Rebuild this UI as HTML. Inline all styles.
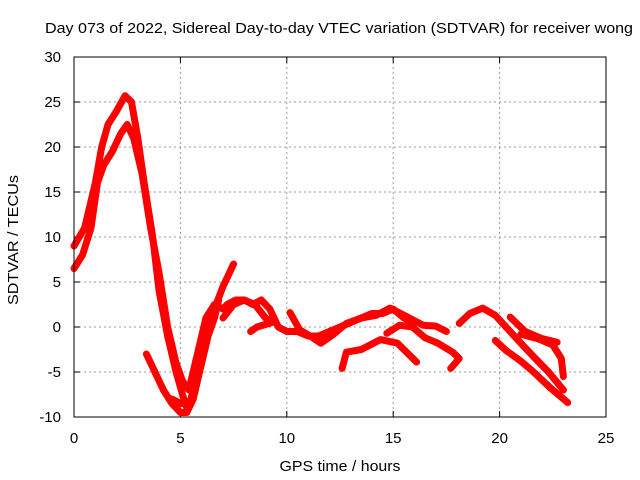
<!DOCTYPE html>
<html><head><meta charset="utf-8"><style>
body{margin:0;background:#fff}
svg{display:block;font-family:"Liberation Sans",sans-serif}
</style></head><body>
<svg id="chart" width="640" height="480">
<rect width="640" height="480" fill="#fff"/>
<text x="339" y="33" font-size="15" text-anchor="middle" textLength="588" lengthAdjust="spacingAndGlyphs">Day 073 of 2022, Sidereal Day-to-day VTEC variation (SDTVAR) for receiver wong</text>
<text x="340" y="471" font-size="15" text-anchor="middle" textLength="121" lengthAdjust="spacingAndGlyphs">GPS time / hours</text>
<text x="18" y="240" font-size="15" text-anchor="middle" textLength="130" lengthAdjust="spacingAndGlyphs" transform="rotate(-90 18 240)">SDTVAR / TECUs</text>
<g id="grid"></g><g id="ticks"></g><g id="series"></g>
<rect x="74" y="57" width="532" height="360" fill="none" stroke="#000" stroke-width="1"/>
</svg>
<script>
const xTicks=[0,5,10,15,20,25];
const yTicks=[-10,-5,0,5,10,15,20,25,30];
const t1h=[0,0.5,1,1.3,1.6,2,2.4,2.7,3,3.3,3.7,4,4.4,4.8,5.1,5.3,5.5,5.8,6.2,6.6,7,7.5];
const t1v=[9,11,16,20,22.5,24,25.7,25,21,16,10,4,-1,-5,-7.5,-9,-8,-5,-1,2,4.5,7];
const t2h=[0,0.4,0.8,1.1,1.4,1.8,2.2,2.5,2.8,3.2,3.6,4,4.4,4.8,5.1,5.4,5.8,6.2,6.6,7,7.2,7.6,8,8.4,8.8,9.2,9.6,10,10.5,11,11.5,12,12.5,13,13.5,14,14.5,15,15.5,16];
const t2v=[6.5,8,11,16,18,19.5,21.5,22.5,21,17,11,6,0,-4,-6,-7,-3,1,2.5,2,2.5,3,3,2.5,3,2,0,-0.5,-0.5,-1,-1,-0.5,0,0.5,1,1.5,1.5,2,1,0.5];
const t3h=[3.4,3.8,4.2,4.6,5,5.3,5.6,6,6.3,6.6,6.8];
const t3v=[-3,-5,-7,-8.5,-9.5,-9.5,-8,-4,-1,1,3];
const t4h=[4.6,5,5.3];
const t4v=[-8,-8.5,-8.5];
const t5h=[7,7.5,8,8.5,9,9.3,8.6,8.3];
const t5v=[1,2.5,3,2.5,1,0.5,0,-0.5];
const t6h=[10.15,10.6,11.1,11.6,12.2,12.8,13.5,14.2,14.85,15.6,16.4,17,17.5];
const t6v=[1.6,-0.3,-1,-1.8,-0.8,0.4,1,1.3,2.1,1.2,0.2,0.1,-0.5];
const t7h=[12.6,12.8,13.5,14.4,15.2,16.1];
const t7v=[-4.6,-2.8,-2.5,-1.4,-1.8,-3.9];
const t8h=[14.7,15.3,15.9,16.5,17.1,17.8,18.1,17.7];
const t8v=[-0.7,0.2,0,-1.2,-1.8,-2.8,-3.5,-4.6];
const t9h=[18.1,18.6,19.2,19.8,20.3,21,21.6,22.3,23];
const t9v=[0.4,1.5,2.1,1.3,0,-1.8,-3.3,-5,-7];
const t10h=[20.5,21.2,22,22.7];
const t10v=[1.1,-0.5,-1.3,-1.7];
const t11h=[19.8,20.3,21,21.6,22.4,23.2];
const t11v=[-1.5,-2.6,-3.8,-5,-6.8,-8.4];
const t12h=[21,21.8,22.5,22.9,23];
const t12v=[-0.8,-1.3,-2,-3.5,-5.5];
const tracks=[[t1h,t1v],[t2h,t2v],[t3h,t3v],[t4h,t4v],[t5h,t5v],[t6h,t6v],[t7h,t7v],[t8h,t8v],[t9h,t9v],[t10h,t10v],[t11h,t11v],[t12h,t12v]];
const X=h=>74+h*(532/25);
const Y=v=>57+(30-v)*9;
const NS="http://www.w3.org/2000/svg";
const grid=document.getElementById('grid'),ticks=document.getElementById('ticks'),ser=document.getElementById('series');
function mk(tag,attrs,parent){const e=document.createElementNS(NS,tag);for(const k in attrs)e.setAttribute(k,attrs[k]);parent.appendChild(e);return e;}
xTicks.forEach(t=>{
  const x=X(t);
  if(t>0&&t<25){const g=mk('line',{x1:x,x2:x,y1:57,y2:417,stroke:'#999','stroke-dasharray':'2,3'},grid);
  
  }
  mk('line',{x1:x,x2:x,y1:417,y2:411,stroke:'#000'},ticks);
  mk('line',{x1:x,x2:x,y1:57,y2:63,stroke:'#000'},ticks);
  const l=mk('text',{x:x,y:443,'font-size':15,'text-anchor':'middle'},ticks);l.textContent=t;
  
  
});
yTicks.forEach(t=>{
  const y=Y(t);
  if(t>-10&&t<30){const g=mk('line',{x1:74,x2:606,y1:y,y2:y,stroke:'#999','stroke-dasharray':'2,3'},grid);
  
  }
  mk('line',{x1:74,x2:80,y1:y,y2:y,stroke:'#000'},ticks);
  mk('line',{x1:606,x2:600,y1:y,y2:y,stroke:'#000'},ticks);
  const l=mk('text',{x:61,y:y+5,'font-size':15,'text-anchor':'end'},ticks);l.textContent=t;
  
  
});
tracks.forEach(([hs,vs])=>{
  const pts=hs.map((h,i)=>X(h).toFixed(1)+','+Y(vs[i]).toFixed(1)).join(' ');
  const p=mk('polyline',{points:pts,fill:'none',stroke:'#f00','stroke-width':7,'stroke-linejoin':'round','stroke-linecap':'round'},ser);
  
  
});
</script>
</body></html>
